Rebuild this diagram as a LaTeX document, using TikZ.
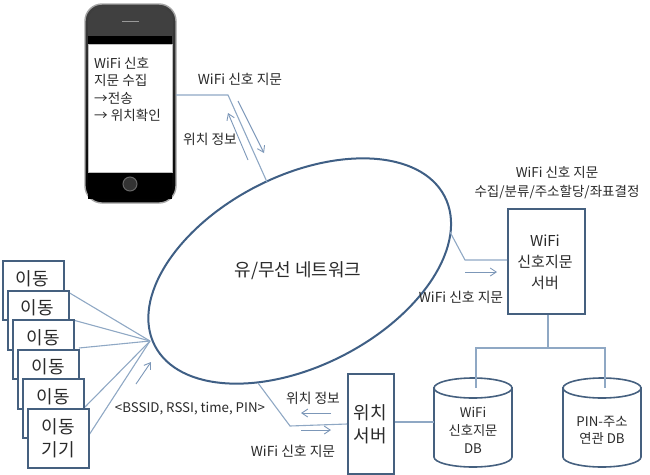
\documentclass[tikz,border=0pt]{standalone}
\usepackage{fontspec}
\setmainfont{Noto Sans CJK KR}
\usetikzlibrary{shapes.geometric,arrows.meta}
\definecolor{edgeblue}{HTML}{3F5F85}
\definecolor{boxblue}{HTML}{45607F}
\definecolor{linkblue}{HTML}{8FA8C4}
\definecolor{arrowblue}{HTML}{7C97B8}
\definecolor{txt}{HTML}{2A2A2A}
\tikzset{
  x=1pt,y=-1pt,
  lbl/.style={text=txt,font=\fontsize{13.8}{17}\selectfont,inner sep=0pt,align=center},
  devbox/.style={draw=boxblue,line width=1.6pt,fill=white,anchor=north west,inner sep=0pt,minimum width=61pt,minimum height=59pt},
  devlbl/.style={text=txt,font=\fontsize{18}{23}\selectfont,inner sep=0pt,align=center},
  srvbox/.style={draw=boxblue,line width=1.8pt,fill=white,inner sep=0pt,anchor=north west},
  link/.style={draw=linkblue,line width=1.1pt},
  flow/.style={draw=arrowblue,line width=0.9pt,-{Straight Barb[length=6pt,width=8pt]}},
  dbside/.style={draw=boxblue,line width=1.6pt,fill=white},
}
\newcommand{\cyl}[5]{% x left, x right, y top centre, y bottom centre, ry
  \path[dbside] (#1,#3) -- (#1,#4) arc[start angle=180,end angle=0,x radius={(#2-#1)/2},y radius=#5] -- (#2,#3) -- cycle;
  \draw[dbside] ({(#1+#2)/2},#3) ellipse[x radius={(#2-#1)/2},y radius=#5];
}
\begin{document}
\begin{tikzpicture}
\useasboundingbox (0,0) rectangle (650,474);
% phone
\draw[draw=gray!70,line width=1.4pt,top color=black!75,bottom color=black,rounded corners=17pt] (85,4) rectangle (176,203);
\fill[black!75,rounded corners=13pt] (88,8) rectangle (173,60);
\fill[black] (88,36) rectangle (172,44);
\fill[black] (88,170) rectangle (172,199);
\draw[gray!80,line width=1pt] (122,21) -- (139,21);
\draw[black!60,fill=black!80,line width=1pt] (130,184) circle (7pt);
\node[draw=gray!50,fill=white,anchor=north west,inner sep=0pt,minimum width=84pt,minimum height=128pt] (screen) at (88,44) {};
\node[lbl,anchor=north west,align=left,font=\fontsize{13.6}{17.4}\selectfont] (phonetxt) at (94,57) {WiFi 신호\\지문 수집\\→전송\\→ 위치확인};
% network
\node[draw=edgeblue,line width=2pt,fill=white,ellipse,rotate=27.2,minimum width=326pt,minimum height=190pt,inner sep=0pt] (net) at (299.7,271) {};
\node[lbl,font=\fontsize{18}{22}\selectfont] (netlbl) at (298,271) {유/무선 네트워크};
% phone links
\coordinate (pA) at (176,95);
\coordinate (pB) at (228,95);
\coordinate (pC) at (267,182);
\draw[link] (pA) -- (pB) -- (pC);
\coordinate (d1s) at (238,101); \coordinate (d1e) at (264,153);
\coordinate (u1s) at (248,160); \coordinate (u1e) at (228,113);
\draw[flow] (d1s) -- (d1e);
\draw[flow] (u1s) -- (u1e);
\node[lbl] (t1) at (240,79) {WiFi 신호 지문};
\node[lbl] (t2) at (210,139) {위치 정보};
% devices
\coordinate (hub) at (150,341);
\draw[link] (68,292) -- (hub);
\draw[link] (73,320) -- (hub);
\draw[link] (79,348) -- (hub);
\draw[link] (85,407) -- (hub);
\draw[link] (89,435) -- (hub);
\node[devbox] (b1) at (2,260) {};
\node[devlbl] (l1) at (32,279) {이동};
\node[devbox] (b2) at (7,290) {};
\node[devlbl] (l2) at (37,308) {이동};
\node[devbox] (b3) at (12,319) {};
\node[devlbl] (l3) at (43,338) {이동};
\node[devbox] (b4) at (17,349) {};
\node[devlbl] (l4) at (48,367) {이동};
\node[devbox] (b5) at (22,378) {};
\node[devlbl] (l5) at (53,397) {이동};
\node[devbox] (b6) at (27,408) {};
\node[devlbl] (l6) at (58,438) {이동\\기기};
\coordinate (a6s) at (136,384); \coordinate (a6e) at (151,362);
\draw[flow] (a6s) -- (a6e);
\node[lbl,font=\fontsize{13.3}{16}\selectfont] (t3) at (190,409) {<BSSID, RSSI, time, PIN>};
% server
\coordinate (sA) at (450,232); \coordinate (sB) at (465,260);
\node[srvbox,minimum width=77pt,minimum height=105pt] (srv) at (507,208) {};
\node[lbl,font=\fontsize{15}{21}\selectfont] (srvl) at (545,262) {WiFi\\신호지문\\서버};
\draw[link] (sA) -- (sB) -- (sB -| srv.west);
\coordinate (a7s) at (465,272); \coordinate (a7e) at (497,272);
\draw[flow] (a7s) -- (a7e);
\node[lbl] (t4) at (461,297) {WiFi 신호 지문};
\node[lbl,font=\fontsize{13.5}{19}\selectfont] (t5) at (557,182.5) {WiFi 신호 지문\\수집/분류/주소할당/좌표결정};
% db links (under cylinders)
\coordinate (j0) at (548,348);
\coordinate (j1) at (476,348);
\coordinate (j2) at (605,348);
% location server
\coordinate (lA) at (258,383); \coordinate (lB) at (290,426);
\node[srvbox,minimum width=46pt,minimum height=100pt] (loc) at (347,373) {};
\node[lbl,font=\fontsize{18}{23}\selectfont] (locl) at (370,424.5) {위치\\서버};
\draw[link] (lA) -- (lB) -- (loc.west |- 0,424);
\coordinate (a8s) at (331,413); \coordinate (a8e) at (301,413);
\coordinate (a9s) at (301,430); \coordinate (a9e) at (331,430);
\draw[flow] (a8s) -- (a8e);
\draw[flow] (a9s) -- (a9e);
\node[lbl] (t6) at (313,398) {위치 정보};
\node[lbl] (t7) at (293,451) {WiFi 신호 지문};
% databases
\cyl{434}{512}{388}{457}{10}
\cyl{563}{641}{388}{457}{10}
\node[lbl,font=\fontsize{13.3}{18}\selectfont] (db1l) at (473,430) {WiFi\\신호지문\\DB};
\node[lbl,font=\fontsize{13.3}{17}\selectfont] (db2l) at (602,430) {PIN-주소\\연관 DB};
\draw[link] (srv.south -| j0) -- (j0);
\draw[link] (j1 |- 0,388) -- (j1) -- (j2) -- (j2 |- 0,388);
\draw[link] (loc.east |- 0,422) -- (434,422);
\end{tikzpicture}
\end{document}
